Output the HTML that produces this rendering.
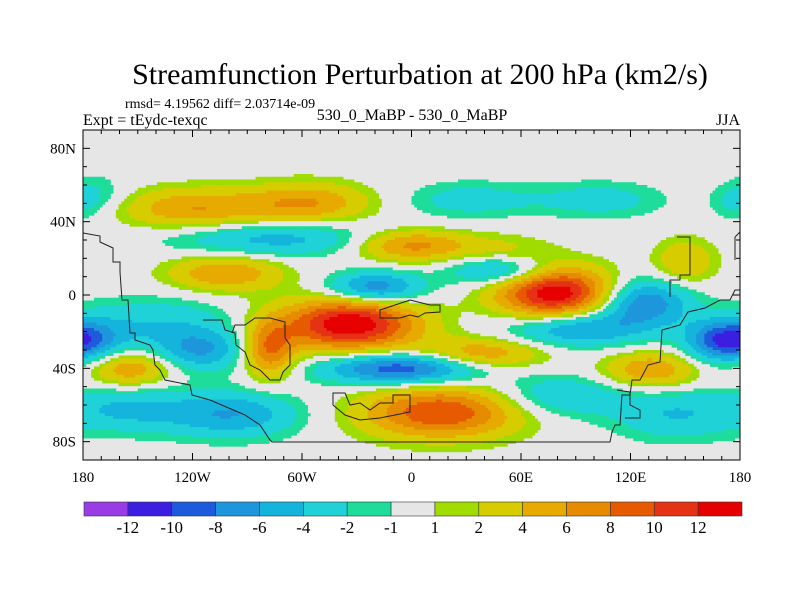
<!DOCTYPE html>
<html><head><meta charset="utf-8"><style>
body{margin:0;background:#fff;}
svg text{font-family:"Liberation Serif",serif;fill:#000;}
</style></head><body>
<svg id="chart" width="800" height="600" xmlns="http://www.w3.org/2000/svg">
<text x="420" y="84" font-size="30" text-anchor="middle">Streamfunction Perturbation at 200 hPa (km2/s)</text>
<text x="125" y="108" font-size="14">rmsd= 4.19562 diff= 2.03714e-09</text>
<text x="83" y="125" font-size="16">Expt = tEydc-texqc</text>
<text x="412" y="120" font-size="16" text-anchor="middle">530_0_MaBP - 530_0_MaBP</text>
<text x="740" y="125" font-size="16" text-anchor="end">JJA</text>
<g id="field"></g>
<g id="coast" fill="none" stroke="#222" stroke-width="1"></g>
<rect x="83" y="130" width="657" height="330" fill="none" stroke="#000" stroke-width="1"/>
<g id="axes"></g>
<g id="colorbar"></g>
</svg>
<script>
const levels=[-12,-10,-8,-6,-4,-2,-1,1,2,4,6,8,10,12];
const colors=["#9a3ce6","#3c1ee0","#1e5adc","#1e96dc","#14b4dc","#1ed2d8","#1edc9a","#e6e6e6","#a0dc00","#d7cc00","#e6aa00","#e68a00","#e65a00","#e63214","#e60000"];
const blobLon=[-119,-57,-102,0,50,-34,-78,79,150,-154,38,131,16,-75,-20,50,-6,127,90,169,-179,-116,-99,-155,81,145,32,103,-172,177,-140];
const blobLat=[47,50,12,27,20,-16,-30,1,18,-40,-32,-41,-64,31,4,14,-40,-4,-18,-25,-25,-30,-65,-62,-55,-65,52,52,55,50,-15];
const blobAmp=[6,6,6,7,3.5,14,8,14,4,6,6,6,10,-5,-8,-8,-10,-8,-7,-6,-6,-6,-6,-4,-4,-4,-3,-3,-2,-2,-3.5];
const blobSx=[28,24,22,22,20,26,10,22,12,16,24,18,30,40,18,20,30,18,26,14,16,18,26,22,25,25,25,25,12,10,30];
const blobSy=[8,8,7,6,8,10,11,10,9,7,6,7,10,7,6,6,6,9,7,8,8,8,9,9,8,10,7,7,8,7,10];
const x=lon=>83+(lon+180)*657/360, y=lat=>130+(90-lat)*330/180;
const NS="http://www.w3.org/2000/svg";
function field(lo,la){let s=0;for(let i=0;i<blobLon.length;i++){let d=lo-blobLon[i];if(d>180)d-=360;if(d<-180)d+=360;s+=blobAmp[i]*Math.exp(-(d*d)/(2*blobSx[i]*blobSx[i])-((la-blobLat[i])**2)/(2*blobSy[i]*blobSy[i]));}return s;}
function color(v){let k=0;while(k<levels.length&&v>=levels[k])k++;return colors[k];}
const g=document.getElementById('field');const step=1.5;
for(let lo=-180;lo<180;lo+=step){for(let la=90;la>-90;la-=step){const v=field(lo+step/2,la-step/2);const c=color(v);if(c==="#e6e6e6")continue;const r=document.createElementNS(NS,'rect');
r.setAttribute('x',x(lo).toFixed(2));r.setAttribute('y',y(la).toFixed(2));r.setAttribute('width',(step*657/360+0.4).toFixed(2));r.setAttribute('height',(step*330/180+0.4).toFixed(2));r.setAttribute('fill',c);


g.appendChild(r);}}
const bg=document.createElementNS(NS,'rect');bg.setAttribute('x',83);bg.setAttribute('y',130);bg.setAttribute('width',657);bg.setAttribute('height',330);bg.setAttribute('fill','#e6e6e6');


g.insertBefore(bg,g.firstChild);
const paths=["M83,233 L100,236 L100,242 L113,248 L113,262 L120,262 L120,272 L122,300 L128,300 L130,333 L135,333 L135,340 L150,345 L153,350 L155,365 L160,370 L165,380 L190,385 L192,395 L210,400 L245,415 L260,425 L270,440 L272,442 L610,442 L612,432 L615,425 L620,425 L622,395 L630,395 L632,380 L640,380 L648,365 L660,362 L662,330 L680,325 L688,312 L705,308 L720,300 L730,300 L735,290 L740,290",
"M677,237 L690,237 L690,275 L680,275 L680,280 L670,280 L670,297",
"M735,237 L740,232 M735,237 L735,260",
"M203,320 L222,320 L225,330 L235,333 L236,345 L245,352 L250,365 L260,370 L270,380 L280,380 L283,372 L290,365 L290,345 L285,338 L285,322 L270,318 L255,318 L245,325 L235,325 L232,333",
"M380,310 L395,305 L410,300 L430,305 L440,305 L440,312 L425,313 L418,317 L410,315 L400,318 L390,318 L380,318 Z",
"M333,393 L345,393 L350,405 L360,403 L370,410 L380,403 L393,403 L393,395 L410,395 L410,412 L395,415 L380,418 L360,420 L345,415 L333,405 Z",
"M617,390 L630,392 L630,405 L640,410 L640,418 L625,418"];
const cg=document.getElementById('coast');
paths.forEach(d=>{const p=document.createElementNS(NS,'path');p.setAttribute('d',d);


cg.appendChild(p);});
const ax=document.getElementById('axes');
const latTicks=[80,40,0,-40,-80], latLabels=["80N","40N","0","40S","80S"];
const lonTicks=[-180,-120,-60,0,60,120,180], lonLabels=["180","120W","60W","0","60E","120E","180"];
function line(x1,y1,x2,y2,name){const l=document.createElementNS(NS,'line');l.setAttribute('x1',x1);l.setAttribute('y1',y1);l.setAttribute('x2',x2);l.setAttribute('y2',y2);l.setAttribute('stroke','#000');


ax.appendChild(l);}
function txt(s,tx,ty,anchor,name,size){const t=document.createElementNS(NS,'text');t.textContent=s;t.setAttribute('x',tx);t.setAttribute('y',ty);t.setAttribute('text-anchor',anchor);t.setAttribute('font-size',size);


ax.appendChild(t);}
for(let la=-80;la<=80;la+=10){const L=la%40===0?7:4;line(83,y(la),83+L,y(la),'y-tick');line(740,y(la),740-L,y(la),'y-tick');}
for(let lo=-170;lo<=170;lo+=10){const L=lo%60===0?7:4;line(x(lo),130,x(lo),130+L,'x-tick');line(x(lo),460,x(lo),460-L,'x-tick');}
latTicks.forEach((v,i)=>txt(latLabels[i],76,y(v)+5,'end','y-tick-label',15));
lonTicks.forEach((v,i)=>txt(lonLabels[i],x(v),482,'middle','x-tick-label',15));
const cb=document.getElementById('colorbar');const bx=84,bw=658/colors.length;
colors.forEach((c,i)=>{const r=document.createElementNS(NS,'rect');r.setAttribute('x',bx+i*bw);r.setAttribute('y',502);r.setAttribute('width',bw);r.setAttribute('height',14);r.setAttribute('fill',c);r.setAttribute('stroke','#333');r.setAttribute('stroke-width','0.6');


cb.appendChild(r);});
levels.forEach((v,i)=>{const t=document.createElementNS(NS,'text');t.textContent=v;t.setAttribute('x',bx+(i+1)*bw);t.setAttribute('y',533);t.setAttribute('text-anchor','middle');t.setAttribute('font-size',17);


cb.appendChild(t);});
</script>
</body></html>
